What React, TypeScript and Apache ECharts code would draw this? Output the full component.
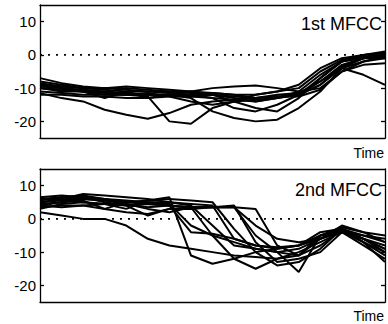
import React, { useEffect, useRef } from "react";
import * as echarts from "echarts";

const TIME = [0, 1, 2, 3, 4, 5, 6, 7, 8, 9, 10, 11, 12, 13, 14, 15, 16];
const Y_TICKS = [-20, -10, 0, 10];
const ZERO_LINE = [0, 0];
const PANEL_TITLES = ["1st MFCC", "2nd MFCC"];
const X_LABEL = "Time";

const MFCC1: number[][] = [
  [-7, -8.5, -9.5, -10, -10, -10.5, -11, -11, -11.5, -12, -12, -11, -9, -4, -1, 0, 1],
  [-8, -9, -10, -10, -9.5, -10, -10.5, -11, -12, -13, -14, -13, -11, -6, -2, -0.5, 0],
  [-9, -10, -11, -13, -11, -13, -12, -12, -11.5, -12, -13, -12, -11.5, -8, -3, -1, -0.5],
  [-10, -11, -11, -12, -12, -11.5, -12.5, -14, -15, -14, -12, -11, -10, -5, -1.5, 0, 0.5],
  [-11, -11.5, -12, -12, -12, -12.5, -20, -20.7, -16, -14, -13.5, -13, -12, -7, -2, -1, -1],
  [-11.5, -13, -14, -16.5, -18, -19.2, -17.5, -15, -14, -13.5, -13, -12.5, -12, -9, -4, -2, -1],
  [-10, -10.5, -11, -11, -12, -12, -12, -13, -17, -19, -20, -19.5, -16, -11, -4, -1, 0],
  [-9.5, -10, -10.5, -11, -11.5, -12, -12, -11, -10, -9.5, -9.2, -10, -11, -10, -5, -2, -0.5],
  [-8.5, -9.5, -10, -10.5, -11, -11, -11.5, -12, -13, -16, -17, -15, -12, -9, -3.5, -1, 0],
  [-10, -10.5, -11, -11.5, -11.5, -12, -12, -12.5, -13, -13.5, -14, -13, -12, -8, -4, -6, -9],
  [-12, -12, -12.5, -12.5, -13, -13, -12.5, -12.5, -12, -12.5, -13, -12.5, -12.5, -10.5, -5, -3, -2.5],
  [-9, -9.5, -10, -10, -10.5, -11, -11, -11.5, -12, -14, -16, -17, -13, -7, -2, 0, 0.5],
];

const MFCC2: number[][] = [
  [2, 1, 0, 0, -2, -6, -8, -9, -10, -11, -11.5, -12, -11, -6, -4, -6, -9],
  [5, 5.5, 5, 4.5, 3, 5.5, 6.5, -11, -13.5, -12, -10, -9, -8, -5, -3, -7, -10],
  [4, 5, 6, 5.5, 5, 4.5, 4, -4, -4.5, -6, -8, -9, -8, -4, -3, -6, -8],
  [6, 6.5, 7, 6, 5, 5, 5, 4.5, 4, -6, -8, -8.5, -8, -6, -3, -5, -6],
  [5, 6, 7.5, 7, 6.5, 6, 5, 4, -2, -8, -9, -10, -11, -5, -2.5, -4, -7],
  [3.5, 4, 4, 3, 2, 1.5, 3, 3, 3.5, 3.5, -5, -10, -16, -5, -4, -8, -12],
  [6, 6, 6, 5.5, 4.5, 3.5, 4, 3.5, 3.5, 4, -7, -13, -12, -10, -4, -7, -11],
  [4.5, 5, 5.5, 3, 5, 5.5, 6, 5.5, 5, -3, -10, -14, -13, -9, -3, -6, -10],
  [5.5, 6.5, 6.5, 6, 5.5, 5, 4.5, -2, -5, -7, -9, -10, -9, -6, -2, -4, -5],
  [3, 4.5, 5, 4.5, 4, 1, 3, 3.5, 3.5, 3.5, 3, -8, -11, -8, -3.5, -6, -9],
  [6.5, 7, 6.5, 5, 4, 4.5, 4, 3.5, -5, -12, -15, -12, -10, -7, -4, -5, -7],
  [4, 3.5, 4, 4.5, 4.5, 3, 2, 3.5, 3.5, 3.5, -2, -6, -7, -6, -3.5, -7, -13],
];

const PANELS = [MFCC1, MFCC2];

export default function App() {
  const ref = useRef<HTMLDivElement>(null);

  useEffect(() => {
    const chart = echarts.init(ref.current!, null, { renderer: "svg" });
    const font = "Arial, 'Liberation Sans', Helvetica, sans-serif";
    const grids = [
      { left: 40, top: 5, width: 345, height: 133 },
      { left: 40, top: 169, width: 345, height: 133 },
    ];
    const xAxes: any[] = [];
    const yAxes: any[] = [];
    const series: any[] = [];
    const frame = { show: true, onZero: false, lineStyle: { color: "#000", width: 1.3 } };

    PANELS.forEach((panel, p) => {
      ["bottom", "top"].forEach((pos) => {
        xAxes.push({
          gridIndex: p,
          type: "value",
          min: TIME[0],
          max: TIME[TIME.length - 1],
          position: pos,
          axisLine: frame,
          axisTick: { show: false },
          axisLabel: { show: false },
          splitLine: { show: false },
        });
      });
      ["left", "right"].forEach((pos) => {
        yAxes.push({
          gridIndex: p,
          type: "value",
          min: -25,
          max: 15,
          position: pos,
          axisLine: frame,
          axisTick: {
            show: true,
            inside: true,
            length: 4,
            customValues: Y_TICKS,
            lineStyle: { color: "#000", width: 1.3 },
          },
          axisLabel: {
            show: pos === "left",
            customValues: Y_TICKS,
            fontSize: 15,
            color: "#000",
            fontFamily: font,
            margin: 4,
          },
          splitLine: { show: false },
        });
      });
      series.push({
        type: "line",
        xAxisIndex: p * 2,
        yAxisIndex: p * 2,
        data: [
          [TIME[0], ZERO_LINE[0]],
          [TIME[TIME.length - 1], ZERO_LINE[1]],
        ],
        symbol: "none",
        silent: true,
        z: 1,
        lineStyle: { color: "#000", width: 1.6, type: [2, 6] },
      });
      panel.forEach((vals) => {
        series.push({
          type: "line",
          xAxisIndex: p * 2,
          yAxisIndex: p * 2,
          data: TIME.map((t, i) => [t, vals[i]]),
          symbol: "none",
          z: 2,
          lineStyle: { color: "#000", width: 2 },
          silent: true,
        });
      });
    });

    const textEl = (text: string, x: number, y: number, size: number) => ({
      type: "text",
      x,
      y,
      z: 100,
      style: {
        text,
        fill: "#000",
        fontSize: size,
        fontFamily: font,
        textAlign: "right",
        textVerticalAlign: "middle",
        align: "right",
        verticalAlign: "middle",
      },
    });

    chart.setOption({
      animation: false,
      backgroundColor: "#fff",
      grid: grids,
      xAxis: xAxes,
      yAxis: yAxes,
      series,
      graphic: [
        textEl(PANEL_TITLES[0], 382, 24, 18),
        textEl(PANEL_TITLES[1], 382, 190, 18),
        textEl(X_LABEL, 384, 153, 14),
        textEl(X_LABEL, 384, 316, 14),
      ],
    });
    return () => chart.dispose();
  }, []);

  return (
    <div
      ref={ref}
      style={{ position: "fixed", left: 0, top: 0, width: 388, height: 324, background: "#fff" }}
    />
  );
}
